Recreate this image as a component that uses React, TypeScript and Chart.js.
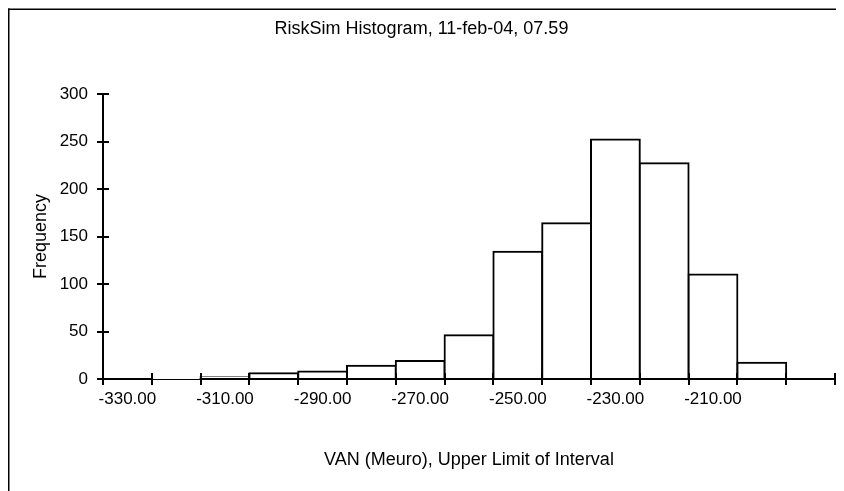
import React, { useEffect, useRef } from "react";
import { Chart, registerables } from "chart.js";

Chart.register(...registerables);

const CHART_TITLE = "RiskSim Histogram, 11-feb-04, 07.59";
const X_TITLE = "VAN (Meuro), Upper Limit of Interval";
const Y_TITLE = "Frequency";

const BIN_LABELS = [
  "-330.00", "-320.00", "-310.00", "-300.00", "-290.00", "-280.00", "-270.00",
  "-260.00", "-250.00", "-240.00", "-230.00", "-220.00", "-210.00", "-200.00", "",
];
const FREQUENCIES = [0, 1, 2, 6, 8, 14, 19, 46, 134, 164, 252, 227, 110, 17, 0];

const Y_MIN = 0;
const Y_MAX = 300;
const Y_STEP = 50;

const W = 836;
const H = 483;
const FONT = "'Liberation Sans', Arial, sans-serif";

const crossTicks = {
  id: "crossTicks",
  beforeDraw(chart: any) {
    const ctx = chart.ctx;
    ctx.save();
    ctx.fillStyle = "#000";
    ctx.fillRect(0, 0.5, chart.width, 1.5);
    ctx.fillRect(0, 0.5, 1.5, chart.height);
    ctx.restore();
  },
  afterDraw(chart: any) {
    const ctx = chart.ctx;
    const { left, bottom } = chart.chartArea;
    const xs = chart.scales.x;
    const ys = chart.scales.y;
    ctx.save();
    ctx.strokeStyle = "#000";
    ctx.lineWidth = 2;
    ctx.beginPath();
    ys.ticks.forEach((_t: any, i: number) => {
      const y = Math.round(ys.getPixelForTick(i));
      ctx.moveTo(left, y);
      ctx.lineTo(left + 6, y);
    });
    const n = BIN_LABELS.length;
    for (let i = 0; i <= n; i++) {
      const x = Math.round(xs.getPixelForValue(i - 0.5));
      ctx.moveTo(x, bottom);
      ctx.lineTo(x, bottom - 6);
    }
    ctx.stroke();
    ctx.restore();
  },
};

export default function App() {
  const ref = useRef<HTMLCanvasElement>(null);
  useEffect(() => {
    if (!ref.current) return;
    const chart = new Chart(ref.current, {
      type: "bar",
      data: {
        labels: BIN_LABELS,
        datasets: [
          {
            data: FREQUENCIES,
            backgroundColor: "#ffffff",
            borderColor: "#000000",
            borderWidth: 2,
            inflateAmount: 1,
            barPercentage: 1,
            categoryPercentage: 1,
          } as any,
        ],
      },
      options: {
        animation: false,
        responsive: false,
        events: [],
        layout: { padding: { left: 0, right: 9, top: 0, bottom: 0 } },
        plugins: {
          legend: { display: false },
          tooltip: { enabled: false },
          title: {
            display: true,
            text: CHART_TITLE,
            color: "#000",
            font: { family: FONT, size: 18, weight: "normal" },
            padding: { top: 10, bottom: 54.4 },
          },
        },
        scales: {
          x: {
            z: 1,
            grid: { drawOnChartArea: false, drawTicks: true, tickLength: 6, color: "#000", lineWidth: 2 },
            border: { display: true, color: "#000", width: 2 },
            ticks: {
              autoSkip: false,
              maxRotation: 0,
              minRotation: 0,
              padding: 4,
              color: "#000",
              font: { family: FONT, size: 17 },
              callback: (_v: any, i: number) => (i % 2 === 0 ? BIN_LABELS[i] : ""),
            },
            title: {
              display: true,
              text: X_TITLE,
              color: "#000",
              font: { family: FONT, size: 18 },
              padding: { top: 0, bottom: 20 },
            },
            afterFit: (s: any) => {
              s.height = 112;
            },
          },
          y: {
            z: 1,
            min: Y_MIN,
            max: Y_MAX,
            grid: { drawOnChartArea: false, drawTicks: true, tickLength: 6, color: "#000", lineWidth: 2 },
            border: { display: true, color: "#000", width: 2 },
            ticks: {
              stepSize: Y_STEP,
              padding: 9,
              color: "#000",
              font: { family: FONT, size: 17 },
            },
            title: {
              display: true,
              text: Y_TITLE,
              color: "#000",
              font: { family: FONT, size: 18 },
              padding: { top: 22, bottom: 0 },
            },
            afterFit: (s: any) => {
              s.width = 95;
            },
          },
        },
      },
      plugins: [crossTicks],
    });
    return () => chart.destroy();
  }, []);
  return (
    <div style={{ width: W, height: H }}>
      <canvas ref={ref} width={W} height={H} style={{ display: "block" }} />
    </div>
  );
}
